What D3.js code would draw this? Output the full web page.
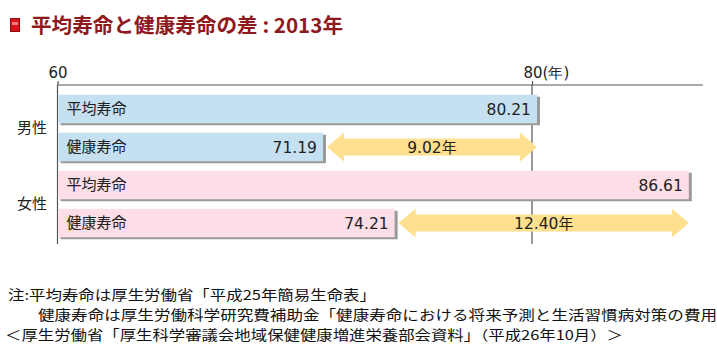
<!DOCTYPE html>
<html><head><meta charset="utf-8">
<script src="https://cdn.jsdelivr.net/npm/d3@7/dist/d3.min.js"></script>
<style>
html,body{margin:0;padding:0;background:#fff;overflow:hidden;}
svg{display:block;}
</style></head>
<body>
<svg id="c" width="717" height="357"></svg>
<script>
// ---- data ----
const titleText = "平均寿命と健康寿命の差 : 2013年";
const groups = ["男性", "女性"];
const measures = ["平均寿命", "健康寿命"];
const avgLife = [80.21, 86.61];      // 平均寿命 (男性, 女性)
const healthLife = [71.19, 74.21];   // 健康寿命 (男性, 女性)
const gapLabels = ["9.02年", "12.40年"];
const tickValues = [60, 80];
const tickLabels = ["60", "80(年)"];
const notes = [
  "注:平均寿命は厚生労働省「平成25年簡易生命表」",
  "健康寿命は厚生労働科学研究費補助金「健康寿命における将来予測と生活習慣病対策の費用",
  "＜厚生労働省「厚生科学審議会地域保健健康増進栄養部会資料」（平成26年10月）＞"
];

const svg = d3.select("#c");
const cjk = "'Noto Sans CJK JP', 'Noto Sans', sans-serif";
const num = "'DejaVu Sans', Verdana, sans-serif";

// title
const ic = svg.append("g");
ic.append("rect").attr("x",10.5).attr("y",18.5).attr("width",9).attr("height",13)
  .attr("fill","#d8141b").attr("stroke","#8e0c10").attr("stroke-width",1);
ic.append("rect").attr("x",12).attr("y",22).attr("width",6).attr("height",3).attr("fill","#f47c80");
svg.append("text").attr("x",31).attr("y",33).text(titleText)
  .attr("font-family",cjk).attr("font-weight","bold").attr("font-size",20)
  .attr("fill","#8e1a1e").attr("textLength",312).attr("lengthAdjust","spacingAndGlyphs");

// scales
const x = d3.scaleLinear().domain([60, 80]).range([57.5, 532]);
const rows = [];
groups.forEach((g,i)=>{
  rows.push({g, m:measures[0], v:avgLife[i], gi:i});
  rows.push({g, m:measures[1], v:healthLife[i], gi:i});
});
const y = d3.scaleBand().domain(rows.map(r=>r.g+r.m)).range([90, 242]).paddingInner(0.25).paddingOuter(0.125);

// axis
const axisY = 85;
const ax = svg.append("g").attr("transform",`translate(0,${axisY})`)
  .call(d3.axisTop(x).tickValues(tickValues).tickSize(4).tickSizeOuter(0).tickFormat((d,i)=>tickLabels[i]));
ax.attr("font-size",null).attr("font-family",null);
ax.select(".domain").attr("d",`M${x(60)},0H${x(87.2)}`).attr("stroke","#555").attr("stroke-width",1.2);
ax.selectAll(".tick line").attr("stroke","#555").attr("stroke-width",1.2);
ax.selectAll(".tick text").style("font-family",num).style("font-size","15px").attr("fill","#222")
  .attr("y",-7)
  .each(function(d){ if(d===80){ d3.select(this).attr("text-anchor","start").attr("x",-9); } });
// vertical guide lines
svg.append("g").selectAll("line").data(tickValues).join("line")
  .attr("x1",d=>x(d)).attr("x2",d=>x(d)).attr("y1",axisY).attr("y2",244)
  .attr("stroke","#555").attr("stroke-width",1.2);

// bars
const fills = ["#c5e1f1", "#fddde6"];
const bg = svg.append("g");
bg.selectAll("rect.sh").data(rows).join("rect").attr("class","sh")
  .attr("x",x(60)+3).attr("y",r=>y(r.g+r.m)+2)
  .attr("width",r=>x(r.v)-x(60)).attr("height",y.bandwidth())
  .attr("fill","#9a9a9a");
bg.selectAll("rect.bar").data(rows).join("rect").attr("class","bar")
  .attr("x",x(60)+1).attr("y",r=>y(r.g+r.m))
  .attr("width",r=>x(r.v)-x(60)-1).attr("height",y.bandwidth())
  .attr("fill",r=>fills[r.gi]);
bg.selectAll("text.lab").data(rows).join("text").attr("class","lab")
  .attr("x",x(60)+9).attr("y",r=>y(r.g+r.m)+y.bandwidth()/2+5)
  .text(r=>r.m).attr("font-family",cjk).attr("font-size",15).attr("fill","#222");
bg.selectAll("text.val").data(rows).join("text").attr("class","val")
  .attr("x",r=>x(r.v)-6).attr("y",r=>y(r.g+r.m)+y.bandwidth()/2+6)
  .attr("text-anchor","end").text(r=>r.v.toFixed(2))
  .attr("font-family",num).attr("font-size",15.5).attr("fill","#222");

// group labels
svg.append("g").selectAll("text").data(groups).join("text")
  .attr("x",32).attr("text-anchor","middle")
  .attr("y",(g)=>(y(g+measures[0])+y(g+measures[1])+y.bandwidth())/2+5)
  .text(d=>d).attr("font-family",cjk).attr("font-size",15).attr("fill","#222");

// gap arrows
const ag = svg.append("g");
groups.forEach((g,i)=>{
  const x0 = x(healthLife[i])+4, x1 = x(avgLife[i]);
  const cy = y(g+measures[1]) + y.bandwidth()/2;
  const hh = 14.5, sh = 8.5, hl = 17;
  const p = d3.path();
  p.moveTo(x0, cy);
  p.lineTo(x0+hl, cy-hh); p.lineTo(x0+hl, cy-sh); p.lineTo(x1-hl, cy-sh);
  p.lineTo(x1-hl, cy-hh); p.lineTo(x1, cy); p.lineTo(x1-hl, cy+hh);
  p.lineTo(x1-hl, cy+sh); p.lineTo(x0+hl, cy+sh); p.lineTo(x0+hl, cy+hh); p.closePath();
  ag.append("path").attr("d",p.toString()).attr("fill","#ffe08e");
  const t = ag.append("text").attr("x",(x0+x1)/2).attr("y",cy+6).attr("text-anchor","middle")
    .attr("fill","#222").attr("font-size",15.5);
  const m = gapLabels[i].match(/^([\d.]+)(.*)$/);
  t.append("tspan").attr("font-family",num).text(m[1]);
  t.append("tspan").attr("font-family",cjk).attr("font-size",15).text(m[2]);
});

// notes
const noteX = [8, 38, 5], noteY = [300, 320, 340], noteW = [368, 679, 618];
svg.append("g").selectAll("text").data(notes).join("text")
  .attr("x",(d,i)=>noteX[i]).attr("y",(d,i)=>noteY[i]).text(d=>d)
  .attr("textLength",(d,i)=>noteW[i]).attr("lengthAdjust","spacingAndGlyphs")
  .attr("font-family",cjk).attr("font-size",13.5).attr("fill","#111");
</script>
</body></html>
